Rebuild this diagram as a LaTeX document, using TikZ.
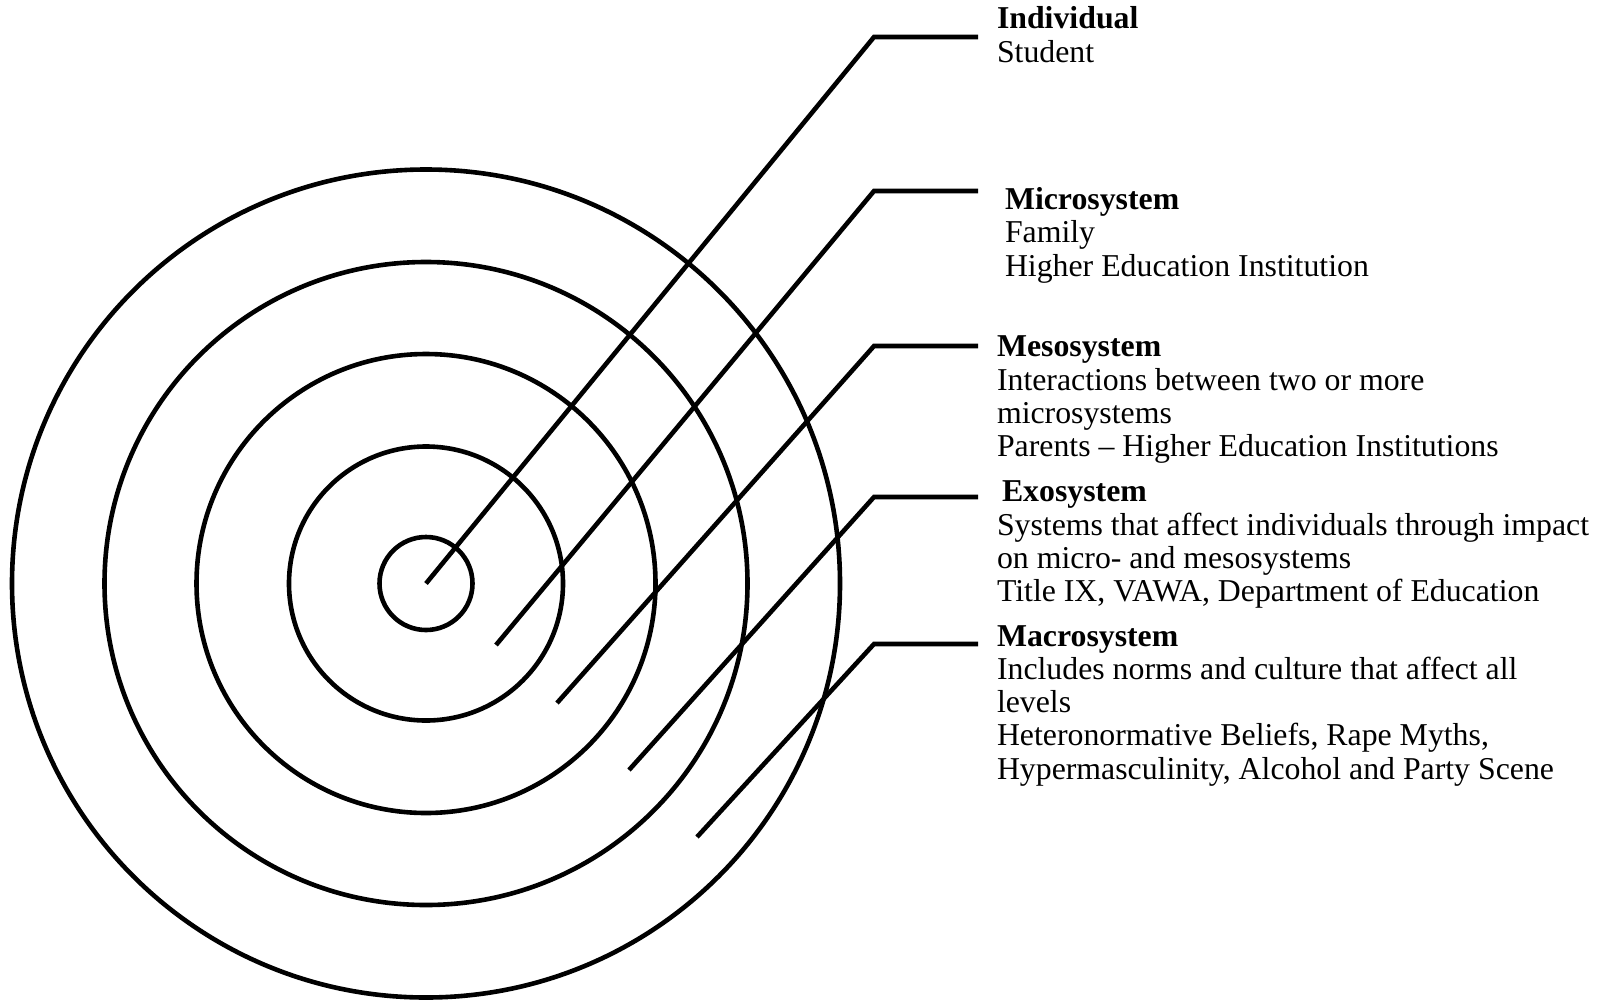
\documentclass[tikz,border=0pt]{standalone}
\usepackage{fontspec}
\setmainfont{Liberation Serif}
\begin{document}
\begin{tikzpicture}[x=1pt,y=-1pt,
  ring/.style={draw=black,line width=4.6pt},
  leader/.style={draw=black,line width=4.6pt,line join=miter},
  label/.style={anchor=base west,align=left,inner sep=0pt,outer sep=0pt,
    font=\fontsize{31.8}{33.2}\selectfont}]
\useasboundingbox (0,0) rectangle (1605,999);
\coordinate (c) at (426,583.5);
\draw[ring] (c) circle[radius=46.5];
\draw[ring] (c) circle[radius=137];
\draw[ring] (c) circle[radius=229.5];
\draw[ring] (c) circle[radius=321.5];
\draw[ring] (c) circle[radius=414];
% leader end points
\coordinate (e2) at (496,645);
\coordinate (e3) at (557,703);
\coordinate (e4) at (629,770);
\coordinate (e5) at (697,837);
\coordinate (k1) at (874,37);  \coordinate (h1) at (978,37);
\coordinate (k2) at (874,191); \coordinate (h2) at (978,191);
\coordinate (k3) at (874,346); \coordinate (h3) at (978,346);
\coordinate (k4) at (874,497); \coordinate (h4) at (978,497);
\coordinate (k5) at (874,644); \coordinate (h5) at (978,644);
\draw[leader] (c) -- (k1) -- (h1);
\draw[leader] (e2) -- (k2) -- (h2);
\draw[leader] (e3) -- (k3) -- (h3);
\draw[leader] (e4) -- (k4) -- (h4);
\draw[leader] (e5) -- (k5) -- (h5);
% labels (base anchor = baseline of the last line)
\node[label] (t1) at (997,62) {\textbf{Individual}\\Student};
\node[label] (t2) at (1005,276) {\textbf{Microsystem}\\Family\\Higher Education Institution};
\node[label] (t3) at (997,456.5) {\textbf{Mesosystem}\\Interactions between two or more\\microsystems\\Parents -- Higher Education Institutions};
\node[label] (t4) at (997,601.5) {\hspace{5pt}\textbf{Exosystem}\\Systems that affect individuals through impact\\on micro- and mesosystems\\Title IX, VAWA, Department of Education};
\node[label] (t5) at (997,779) {\textbf{Macrosystem}\\Includes norms and culture that affect all\\levels\\Heteronormative Beliefs, Rape Myths,\\Hypermasculinity, Alcohol and Party Scene};
\end{tikzpicture}
\end{document}
